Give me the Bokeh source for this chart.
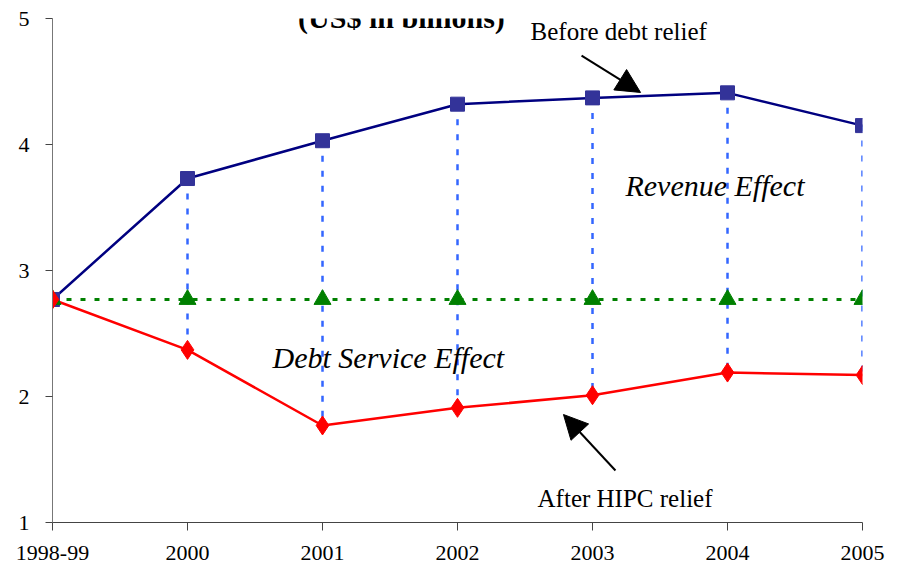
from bokeh.plotting import figure
from bokeh.models import Range1d, FixedTicker, Label, Arrow, NormalHead
from bokeh.embed import file_html
from bokeh.resources import INLINE

years = ["1998-99", "2000", "2001", "2002", "2003", "2004", "2005"]
before_relief = [2.77, 3.73, 4.03, 4.32, 4.37, 4.41, 4.15]
after_relief = [2.77, 2.37, 1.77, 1.91, 2.01, 2.19, 2.17]
baseline = [2.77, 2.77, 2.77, 2.77, 2.77, 2.77, 2.77]
y_ticks = [1, 2, 3, 4, 5]

xs = list(range(len(years)))
SERIF = "Liberation Serif"

p = figure(frame_width=810, frame_height=504, output_backend="svg", toolbar_location=None,
           x_range=Range1d(0, len(years) - 1), y_range=Range1d(1, 5),
           min_border_left=52, min_border_top=18, min_border_right=34, min_border_bottom=44)
p.outline_line_color = None
p.xgrid.visible = False
p.ygrid.visible = False
p.background_fill_color = "white"
p.border_fill_color = "white"

# vertical dotted connectors
p.segment(x0=xs[1:], y0=before_relief[1:], x1=xs[1:], y1=after_relief[1:],
          line_color="#3366FF", line_width=2.5, line_dash="6 9")
# baseline
p.line(xs, baseline, line_color="#008000", line_width=3, line_dash="5 9")
p.line(xs, before_relief, line_color="#000080", line_width=2.5)
p.line(xs, after_relief, line_color="#FF0000", line_width=2.5)

p.scatter(xs, before_relief, marker="square", size=14, fill_color="#333399", line_color="#333399")
p.scatter(xs, baseline, marker="triangle", size=17, fill_color="#008000", line_color="#008000")
p.scatter(xs, after_relief, marker="diamond", size=19, fill_color="#FF0000", line_color="#FF0000")

# axes
p.xaxis.ticker = FixedTicker(ticks=xs)
p.xaxis.major_label_overrides = {i: y for i, y in enumerate(years)}
p.yaxis.ticker = FixedTicker(ticks=y_ticks)
for ax in (p.xaxis[0], p.yaxis[0]):
    ax.minor_tick_line_color = None
    ax.major_tick_in = 0
    ax.major_label_text_font = SERIF
    ax.major_label_text_font_size = "22px"
    ax.major_label_text_color = "black"
    ax.axis_line_width = 1
    ax.major_tick_line_width = 1
p.xaxis.major_tick_out = 8
p.yaxis.major_tick_out = 7
p.xaxis.axis_line_color = "#444444"
p.xaxis.major_tick_line_color = "#444444"
p.yaxis.axis_line_color = "#777777"
p.yaxis.major_tick_line_color = "#444444"
p.xaxis.major_label_standoff = 15
p.yaxis.major_label_standoff = 16

# title (sits at the very top edge)
p.add_layout(Label(x=2.585, y=5.008, text="(US$ in billions)", text_font=SERIF,
                   text_font_size="30px", text_font_style="bold", text_align="center",
                   text_baseline="alphabetic", text_color="black"))

p.add_layout(Label(x=3.541, y=4.895, text="Before debt relief", text_font=SERIF,
                   text_font_size="25px", text_align="left", text_baseline="alphabetic",
                   text_color="black"))
p.add_layout(Label(x=3.593, y=1.19, text="After HIPC relief", text_font=SERIF,
                   text_font_size="25px", text_align="left", text_baseline="alphabetic",
                   text_color="black"))
p.add_layout(Label(x=4.244, y=3.675, text="Revenue Effect", text_font=SERIF,
                   text_font_size="30px", text_font_style="italic", text_align="left",
                   text_baseline="alphabetic", text_color="black"))
p.add_layout(Label(x=1.630, y=2.306, text="Debt Service Effect", text_font=SERIF,
                   text_font_size="30px", text_font_style="italic", text_align="left",
                   text_baseline="alphabetic", text_color="black"))

p.add_layout(Arrow(x_start=3.919, y_start=4.706, x_end=4.356, y_end=4.413,
                   line_color="black", line_width=2,
                   end=NormalHead(size=24, fill_color="black", line_color="black")))
p.add_layout(Arrow(x_start=4.170, y_start=1.413, x_end=3.785, y_end=1.857,
                   line_color="black", line_width=2,
                   end=NormalHead(size=24, fill_color="black", line_color="black")))

open("out.html", "w").write(file_html(p, INLINE))
